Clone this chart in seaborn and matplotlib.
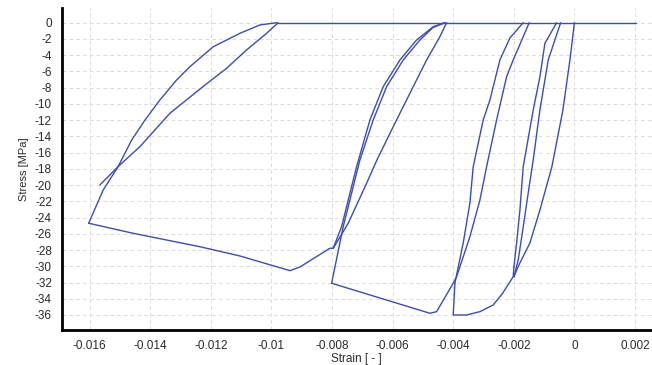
import pandas as pd
import numpy as np
import matplotlib
matplotlib.use("Agg")
import matplotlib.pyplot as plt
import seaborn as sns

# strain in [-], stress in MPa
zero_strain = [-0.00983, 0.00203]
zero_stress = [0, 0]

load1_strain = [0, -0.000149, -0.00038, -0.000743, -0.001139, -0.001469, -0.001865, -0.001997]
load1_stress = [0, -4.59, -10.75, -17.73, -23.07, -27.13, -30.09, -31.32]

unload1_strain = [-0.001997, -0.001855, -0.00169, -0.001525, -0.00136, -0.001139, -0.000865, -0.000455]
unload1_stress = [-31.32, -29.22, -25.16, -20.97, -16.91, -10.75, -4.59, 0]

reload1_strain = [-0.000587, -0.000974, -0.001139, -0.00136, -0.00169, -0.001799, -0.001908, -0.001997]
reload1_stress = [0, -2.54, -6.65, -10.75, -17.73, -23.07, -27.13, -30.09]

env1_strain = [-0.001997, -0.00202, -0.00237, -0.00268, -0.003119, -0.003558, -0.0040, -0.003944]
env1_stress = [-30.09, -31.28, -33.33, -34.77, -35.59, -36.0, -36.0, -32.09]

unload2_strain = [-0.003944, -0.00367, -0.003449, -0.00334, -0.00301, -0.002789, -0.00268, -0.002459, -0.002129, -0.00169]
unload2_stress = [-32.09, -27.13, -22.2, -17.73, -11.98, -9.52, -7.88, -4.59, -1.88, 0]

reload2_strain = [-0.001492, -0.00169, -0.00202, -0.002238, -0.002568, -0.002898, -0.003119, -0.003449, -0.003888,
                  -0.0040, -0.004548, -0.004769, -0.008013]
reload2_stress = [0, -1.72, -4.59, -6.65, -11.98, -17.73, -21.84, -26.35, -31.28,
                  -32.09, -35.59, -35.79, -32.09]

unload3_strain = [-0.008013, -0.00763, -0.007079, -0.00664, -0.006198, -0.00565, -0.005099, -0.00467, -0.004274]
unload3_stress = [-32.09, -25.12, -16.91, -11.98, -7.88, -4.59, -2.13, -0.6, 0]

reload3_strain = [-0.004218, -0.004439, -0.004878, -0.005429, -0.00598, -0.006518, -0.006858, -0.007465, -0.00796]
reload3_stress = [0, -1.72, -4.59, -8.69, -12.81, -16.91, -19.78, -24.70, -27.78]

unload4_strain = [-0.00796, -0.007683, -0.007409, -0.007188, -0.006749, -0.00631, -0.005759, -0.005208, -0.00466, -0.004274]
unload4_stress = [-27.78, -25.12, -21.01, -17.73, -11.98, -7.88, -4.59, -2.13, -0.49, 0]

env2_strain = [-0.00796, -0.008069, -0.009059, -0.009389, -0.01104, -0.01236, -0.01456, -0.01603]
env2_stress = [-27.78, -27.78, -30.09, -30.54, -28.73, -27.59, -25.94, -24.70]

unload5_strain = [-0.01603, -0.01555, -0.01506, -0.01461, -0.01417, -0.01368, -0.01313, -0.01269, -0.01192,
                  -0.01104, -0.01038, -0.00983]
unload5_stress = [-24.70, -20.60, -17.73, -14.45, -11.98, -9.52, -7.06, -5.42, -2.96, -1.31, -0.28, 0]

reload5_strain = [-0.009776, -0.01016, -0.01082, -0.01148, -0.01226, -0.01335, -0.01434, -0.01506, -0.01566]
reload5_stress = [0, -1.31, -3.36, -5.62, -7.88, -11.16, -15.27, -17.73, -19.99]

segments = {
    "zero": (zero_strain, zero_stress),
    "load1": (load1_strain, load1_stress),
    "unload1": (unload1_strain, unload1_stress),
    "reload1": (reload1_strain, reload1_stress),
    "env1": (env1_strain, env1_stress),
    "unload2": (unload2_strain, unload2_stress),
    "reload2": (reload2_strain, reload2_stress),
    "unload3": (unload3_strain, unload3_stress),
    "reload3": (reload3_strain, reload3_stress),
    "unload4": (unload4_strain, unload4_stress),
    "env2": (env2_strain, env2_stress),
    "unload5": (unload5_strain, unload5_stress),
    "reload5": (reload5_strain, reload5_stress),
}

frames = []
for name, (xs, ys) in segments.items():
    frames.append(pd.DataFrame({"strain": xs, "stress": ys, "seg": name}))
df = pd.concat(frames, ignore_index=True)

sns.set_style("white")
plt.rcParams["font.family"] = ["Liberation Sans", "DejaVu Sans"]
plt.rcParams["axes.unicode_minus"] = False

fig = plt.figure(figsize=(6.52, 3.65), dpi=100)
ax = fig.add_axes([61.7 / 652, 35 / 365, (652 - 61.7) / 652, 322 / 365])

sns.lineplot(data=df, x="strain", y="stress", units="seg", estimator=None, sort=False,
             color="#3b4db5", linewidth=1.0, ax=ax, legend=False)

ax.set_xlim(-0.01692, 0.00256)
ax.set_ylim(-37.85, 1.81)
ax.set_xticks([-0.016, -0.014, -0.012, -0.01, -0.008, -0.006, -0.004, -0.002, 0, 0.002])
ax.set_xticklabels(["-0.016", "-0.014", "-0.012", "-0.01", "-0.008", "-0.006", "-0.004", "-0.002", "0", "0.002"])
ax.set_yticks(list(range(0, -37, -2)))
ax.set_yticklabels([str(v) for v in range(0, -37, -2)])

ax.grid(True, linestyle=(0, (4, 3)), color="#dcdcdc", linewidth=0.7)
ax.tick_params(axis="both", length=0, labelsize=8.5, pad=7, colors="#2a2a2a")
for side in ["top", "right"]:
    ax.spines[side].set_visible(False)
for side in ["left", "bottom"]:
    ax.spines[side].set_color("black")
    ax.spines[side].set_linewidth(2)

ax.set_xlabel("Strain [ - ]", fontsize=8.5, labelpad=1, color="#2a2a2a")
ax.set_ylabel("Stress [MPa]", fontsize=8, labelpad=4, color="#2a2a2a")

fig.savefig("out.png", dpi=100)
